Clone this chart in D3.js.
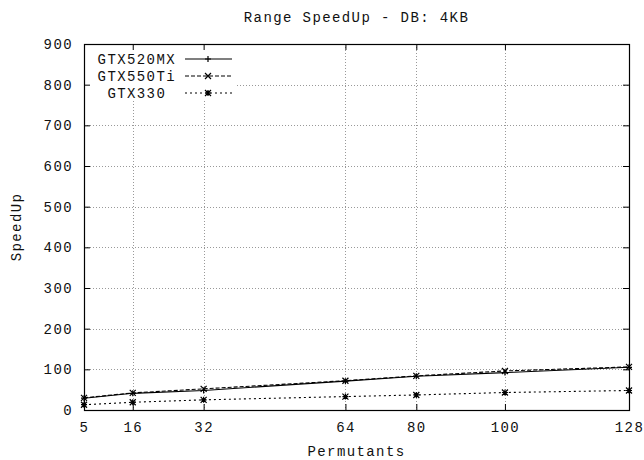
<!DOCTYPE html>
<html>
<head>
<meta charset="utf-8">
<script src="https://cdn.jsdelivr.net/npm/d3@7"></script>
<style>
body { margin: 0; background: #fff; }
text { font-family: "Liberation Mono", "DejaVu Sans Mono", monospace; font-size: 14px; letter-spacing: 1.4px; fill: #111; white-space: pre; }
</style>
</head>
<body>
<div id="chart"></div>
<script>
// values
var permutants = [5, 16, 32, 64, 80, 100, 128];
var gtx520mx = [29, 41, 48, 71, 83, 92, 105];
var gtx550ti = [30, 42, 52, 72, 84, 96, 106];
var gtx330 = [13, 19, 25, 33, 37, 43, 48];
var yTicks = [0, 100, 200, 300, 400, 500, 600, 700, 800, 900];
var seriesNames = ["GTX520MX", "GTX550Ti", "GTX330 "];

var chartWidth = 644, chartHeight = 460;
var plotLeft = 84, plotRight = 629, plotTop = 44, plotBottom = 410;

var svg = d3.select("#chart").append("svg").attr("width", chartWidth).attr("height", chartHeight);

var x = d3.scaleLinear().domain([5, 128]).range([plotLeft, plotRight]);
var y = d3.scaleLinear().domain([0, 900]).range([plotBottom, plotTop]);

var series = [
    { name: seriesNames[0], values: gtx520mx, dash: null, marker: "plus" },
    { name: seriesNames[1], values: gtx550ti, dash: "4,2", marker: "cross" },
    { name: seriesNames[2], values: gtx330, dash: "2,3", marker: "star" }
];

function Marker(g, cx, cy, type) {
    var s = 3;
    var p = "";
    if (type == "plus" || type == "star") {
        p += "M" + (cx - s) + "," + cy + "H" + (cx + s) + "M" + cx + "," + (cy - s) + "V" + (cy + s);
    }
    if (type == "cross" || type == "star") {
        p += "M" + (cx - s) + "," + (cy - s) + "L" + (cx + s) + "," + (cy + s);
        p += "M" + (cx - s) + "," + (cy + s) + "L" + (cx + s) + "," + (cy - s);
    }
    g.append("path").attr("d", p).attr("stroke", "#000").attr("stroke-width", 1.2).attr("fill", "none");
}

// grid
var grid = svg.append("g");
grid.selectAll("line.gy").data(yTicks.slice(1, -1)).enter().append("line")
    .attr("x1", plotLeft).attr("x2", plotRight)
    .attr("y1", function(d) { return Math.round(y(d)) + 0.5; })
    .attr("y2", function(d) { return Math.round(y(d)) + 0.5; })
    .attr("stroke", "#999").attr("stroke-dasharray", "1,2");
grid.selectAll("line.gx").data(permutants.slice(1, -1)).enter().append("line")
    .attr("y1", plotTop).attr("y2", plotBottom)
    .attr("x1", function(d) { return Math.round(x(d)) + 0.5; })
    .attr("x2", function(d) { return Math.round(x(d)) + 0.5; })
    .attr("stroke", "#999").attr("stroke-dasharray", "1,2");

// legend background hides the grid
svg.append("rect").attr("x", plotLeft + 1).attr("y", plotTop + 1).attr("width", 152).attr("height", 56).attr("fill", "#fff");

// axes with inward ticks on all sides
var tickLen = 6;
var xAxisB = d3.axisBottom(x).tickValues(permutants).tickSizeInner(-tickLen).tickSizeOuter(0).tickPadding(tickLen + 6);
var xAxisT = d3.axisTop(x).tickValues(permutants).tickSizeInner(-tickLen).tickSizeOuter(0).tickFormat("");
var yAxisL = d3.axisLeft(y).tickValues(yTicks).tickSizeInner(-tickLen).tickSizeOuter(0).tickPadding(tickLen + 5);
var yAxisR = d3.axisRight(y).tickValues(yTicks).tickSizeInner(-tickLen).tickSizeOuter(0).tickFormat("");

function StyleAxis(g) {
    g.select(".domain").remove();
    g.selectAll("line").attr("stroke", "#000");
    g.selectAll("text").attr("font-family", null).attr("font-size", null);
}
svg.append("g").attr("transform", "translate(0," + plotBottom + ")").call(xAxisB).call(StyleAxis);
svg.append("g").attr("transform", "translate(0," + plotTop + ")").call(xAxisT).call(StyleAxis);
svg.append("g").attr("transform", "translate(" + plotLeft + ",0)").call(yAxisL).call(StyleAxis);
svg.append("g").attr("transform", "translate(" + plotRight + ",0)").call(yAxisR).call(StyleAxis);

svg.append("rect").attr("x", plotLeft + 0.5).attr("y", plotTop + 0.5)
    .attr("width", plotRight - plotLeft).attr("height", plotBottom - plotTop)
    .attr("fill", "none").attr("stroke", "#000").attr("stroke-width", 1.2);

// lines
var line = d3.line().x(function(d, i) { return x(permutants[i]); }).y(function(d) { return y(d); });
var plot = svg.append("g");
series.forEach(function(s) {
    plot.append("path").datum(s.values).attr("d", line)
        .attr("fill", "none").attr("stroke", "#000").attr("stroke-width", 1.1)
        .attr("stroke-dasharray", s.dash);
    s.values.forEach(function(v, i) { Marker(plot, x(permutants[i]), y(v), s.marker); });
});

// legend
var legend = svg.append("g");
series.forEach(function(s, i) {
    var ly = 59 + i * 17;
    legend.append("text").attr("x", 176).attr("y", ly + 5).attr("text-anchor", "end").text(s.name);
    legend.append("line").attr("x1", 185).attr("x2", 232).attr("y1", ly).attr("y2", ly)
        .attr("stroke", "#000").attr("stroke-width", 1.1).attr("stroke-dasharray", s.dash);
    Marker(legend, 208, ly, s.marker);
});

// titles
svg.append("text").attr("x", (plotLeft + plotRight) / 2).attr("y", 22).attr("text-anchor", "middle").text("Range SpeedUp - DB: 4KB");
svg.append("text").attr("x", (plotLeft + plotRight) / 2).attr("y", 456).attr("text-anchor", "middle").text("Permutants");
svg.append("text").attr("transform", "translate(21," + ((plotTop + plotBottom) / 2) + ") rotate(-90)").attr("text-anchor", "middle").text("SpeedUp");
</script>
</body>
</html>
